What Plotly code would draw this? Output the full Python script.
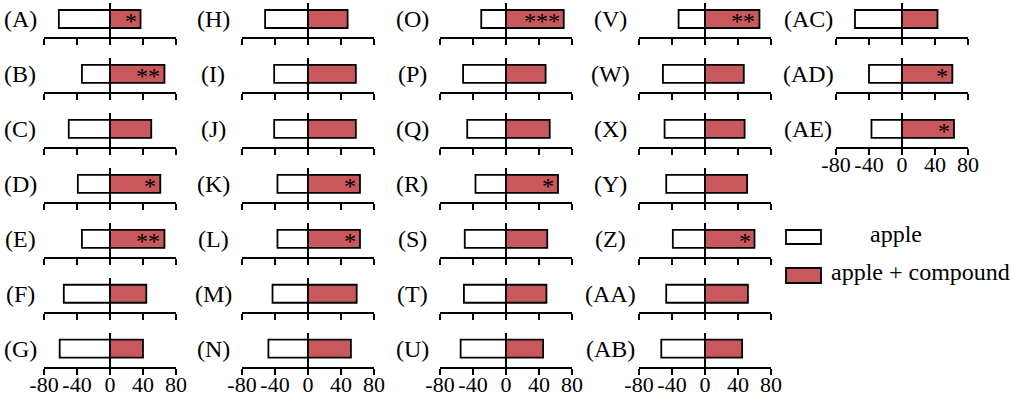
import plotly.graph_objects as go

# ---------------- data ----------------
panel_labels = ["(A)", "(B)", "(C)", "(D)", "(E)", "(F)", "(G)",
                "(H)", "(I)", "(J)", "(K)", "(L)", "(M)", "(N)",
                "(O)", "(P)", "(Q)", "(R)", "(S)", "(T)", "(U)",
                "(V)", "(W)", "(X)", "(Y)", "(Z)", "(AA)", "(AB)",
                "(AC)", "(AD)", "(AE)"]
apple = [-62, -34, -50, -39, -34, -56, -61,
         -52, -41, -41, -37, -37, -43, -48,
         -30, -52, -47, -37, -50, -51, -55,
         -32, -51, -49, -47, -39, -47, -53,
         -57, -40, -37]
apple_compound = [37, 66, 50, 61, 66, 44, 40,
                  48, 58, 58, 63, 63, 59, 52,
                  70, 48, 53, 63, 50, 49, 45,
                  66, 47, 48, 51, 60, 52, 45,
                  43, 61, 63]
significance = ["*", "**", "", "*", "**", "", "",
                "", "", "", "*", "*", "", "",
                "***", "", "", "*", "", "", "",
                "**", "", "", "", "*", "", "",
                "", "*", "*"]
series_names = ["apple", "apple + compound"]
tick_values = [-80, -40, 0, 40, 80]
tick_labels = ["-80", "-40", "0", "40", "80"]

# ---------------- styling / layout ----------------
W, H = 1013, 396
FONT = "'Liberation Serif', 'Times New Roman', Tinos, 'DejaVu Serif', serif"
RED = "#C8585C"
LW = 1.8
col_left = [44, 242, 440, 639, 836]
col_w = 132
label_cx = [20, 213, 412, 610, 808]
row_axis = [37 + 54.95 * r for r in range(7)]
panel_h = 34
rows_per_col = [7, 7, 7, 7, 3]


def px_x(p):
    return p / W


def px_y(p):
    return 1 - p / H


fig = go.Figure()
layout = dict(template="none", width=W, height=H, autosize=False,
              margin=dict(l=0, r=0, t=0, b=0, pad=0),
              paper_bgcolor="white", plot_bgcolor="rgba(0,0,0,0)",
              showlegend=False, barmode="overlay", hovermode=False,
              font=dict(family=FONT, color="black"))
annotations = []
shapes = []

idx = 0
for c, nrows in enumerate(rows_per_col):
    for r in range(nrows):
        i = idx + 1
        xa = "x" if i == 1 else f"x{i}"
        ya = "y" if i == 1 else f"y{i}"
        xkey = "xaxis" if i == 1 else f"xaxis{i}"
        ykey = "yaxis" if i == 1 else f"yaxis{i}"
        bottom = row_axis[r]
        is_last = (r == nrows - 1)
        layout[xkey] = dict(
            domain=[px_x(col_left[c]), px_x(col_left[c] + col_w)],
            anchor=ya, range=[-80, 80], fixedrange=True, automargin=False,
            showgrid=False, zeroline=True, zerolinecolor="black",
            zerolinewidth=LW, showline=True, linecolor="black",
            linewidth=LW, ticks="outside", ticklen=6, tickwidth=LW,
            tickcolor="black", tickmode="array", tickvals=tick_values,
            ticktext=tick_labels, showticklabels=is_last,
            ticklabelstandoff=-9,
            tickfont=dict(family=FONT, size=22, color="black"),
        )
        layout[ykey] = dict(
            domain=[px_y(bottom), px_y(bottom - panel_h)],
            anchor=xa, range=[0, panel_h], visible=False, fixedrange=True,
            automargin=False,
        )
        fig.add_trace(go.Bar(
            x=[apple[idx]], y=[18], orientation="h", width=18,
            xaxis=xa, yaxis=ya, name=series_names[0],
            marker=dict(color="white", line=dict(color="black", width=LW)),
        ))
        fig.add_trace(go.Bar(
            x=[apple_compound[idx]], y=[18], orientation="h", width=18,
            xaxis=xa, yaxis=ya, name=series_names[1],
            marker=dict(color=RED, line=dict(color="black", width=LW)),
        ))
        annotations.append(dict(
            text=panel_labels[idx], xref="paper", yref="paper",
            x=px_x(label_cx[c]), y=px_y(bottom - 18),
            xanchor="center", yanchor="middle", showarrow=False,
            font=dict(family=FONT, size=24, color="black"),
        ))
        if significance[idx]:
            annotations.append(dict(
                text=significance[idx], xref=xa, yref=ya,
                x=apple_compound[idx], y=18, xanchor="right",
                yanchor="middle", xshift=-2, yshift=-2, showarrow=False,
                font=dict(family=FONT, size=24, color="black"),
            ))
        idx += 1

# legend (drawn manually to match the reference layout)
shapes.append(dict(type="rect", xref="paper", yref="paper",
                   x0=px_x(786), x1=px_x(821), y0=px_y(244), y1=px_y(230),
                   fillcolor="white", line=dict(color="black", width=LW)))
shapes.append(dict(type="rect", xref="paper", yref="paper",
                   x0=px_x(786), x1=px_x(821), y0=px_y(283), y1=px_y(268),
                   fillcolor=RED, line=dict(color="black", width=LW)))
annotations.append(dict(text=series_names[0], xref="paper", yref="paper",
                        x=px_x(896), y=px_y(234), xanchor="center",
                        yanchor="middle", showarrow=False,
                        font=dict(family=FONT, size=24, color="black")))
annotations.append(dict(text=series_names[1], xref="paper", yref="paper",
                        x=px_x(829), y=px_y(272), xanchor="left",
                        yanchor="middle", showarrow=False,
                        font=dict(family=FONT, size=24, color="black")))

layout["annotations"] = annotations
layout["shapes"] = shapes
fig.update_layout(**layout)
fig.write_html(
    "out.html",
    config={"displayModeBar": False, "staticPlot": True},
    post_script="document.body.style.margin='0';"
                "document.body.style.overflow='hidden';",
)
